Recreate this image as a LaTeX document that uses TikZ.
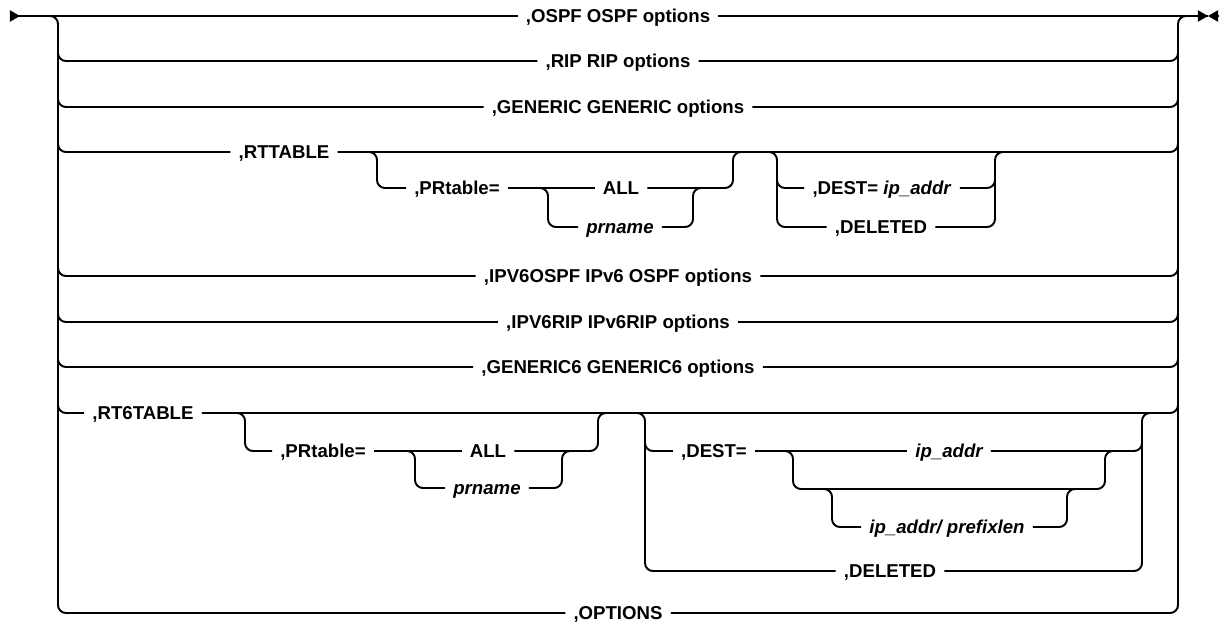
\documentclass[tikz,border=0pt]{standalone}
\usepackage{fontspec}
\setmainfont{Liberation Sans}
\usetikzlibrary{arrows.meta, calc}

\begin{document}
\begin{tikzpicture}[x=0.02cm, y=-0.02cm,
    rail/.style={line width=1.1pt, rounded corners=4.5pt},
    tip/.style={line width=0.6pt, -{Triangle[length=5.7pt, width=6.4pt]}},
    kw/.style={inner xsep=4.5pt, inner ysep=0pt, text height=7.6pt, text depth=0pt,
        font=\fontsize{10.6}{12}\selectfont\bfseries},
    var/.style={kw, font=\fontsize{10.6}{12}\selectfont\bfseries\itshape}]

    \useasboundingbox (0,0) rectangle (1225,626);

    % start and end marks, rails
    \coordinate (start) at (10,16);
    \coordinate (stop) at (1208,16);
    \coordinate (stopb) at (1218,16);
    \coordinate (lrail) at (58,16);
    \coordinate (rrail) at (1178,16);

    % the keywords, top to bottom
    \node[kw] (ospf) at (618,16) {,OSPF OSPF options};
    \node[kw] (rip) at (618,61) {,RIP RIP options};
    \node[kw] (gen) at (618,107) {,GENERIC GENERIC options};
    \node[kw] (rtt) at (284,152) {,RTTABLE};
    \node[kw] (prt) at (457,188) {,PRtable=};
    \node[kw] (all) at (621,188) {ALL};
    \node[var] (prn) at (620,227) {prname};
    \node[kw] (dest) at (882,188) {,DEST= \textit{ip\_addr}};
    \node[kw] (del) at (881,227) {,DELETED};
    \node[kw] (v6ospf) at (618,276) {,IPV6OSPF IPv6 OSPF options};
    \node[kw] (v6rip) at (618,322) {,IPV6RIP IPv6RIP options};
    \node[kw] (gen6) at (618,367) {,GENERIC6 GENERIC6 options};
    \node[kw] (rt6) at (143,413) {,RT6TABLE};
    \node[kw] (prt6) at (323,451) {,PRtable=};
    \node[kw] (all6) at (488,451) {ALL};
    \node[var] (prn6) at (487,488) {prname};
    \node[kw] (dest6) at (714,451) {,DEST=};
    \node[var] (ipa6) at (949,451) {ip\_addr};
    \node[var] (ipp6) at (947,527) {ip\_addr/ prefixlen};
    \node[kw] (del6) at (890,571) {,DELETED};
    \node[kw] (opts) at (618,613) {,OPTIONS};

    % main line with its marks:
    \draw[rail] (start) -- (ospf.west);
    \draw[rail] (ospf.east) -- (stop);
    \draw[tip] (start) -- ++(10,0);
    \draw[tip] ($(stop)+(-10,0)$) -- (stop);
    \draw[tip] (stopb) -- (stop);

    % left and right rails down to ,OPTIONS:
    \draw[rail] ($(lrail)+(-14,0)$) -- (lrail) |- (opts.west);
    \draw[rail] (opts.east) -| (rrail) -- ++(14,0);

    % plain rows:
    \draw[rail] ($(lrail |- rip)+(0,-22)$) |- (rip.west);
    \draw[rail] (rip.east) -| ($(rrail |- rip)+(0,-22)$);
    \draw[rail] ($(lrail |- gen)+(0,-22)$) |- (gen.west);
    \draw[rail] (gen.east) -| ($(rrail |- gen)+(0,-22)$);
    \draw[rail] ($(lrail |- v6ospf)+(0,-22)$) |- (v6ospf.west);
    \draw[rail] (v6ospf.east) -| ($(rrail |- v6ospf)+(0,-22)$);
    \draw[rail] ($(lrail |- v6rip)+(0,-22)$) |- (v6rip.west);
    \draw[rail] (v6rip.east) -| ($(rrail |- v6rip)+(0,-22)$);
    \draw[rail] ($(lrail |- gen6)+(0,-22)$) |- (gen6.west);
    \draw[rail] (gen6.east) -| ($(rrail |- gen6)+(0,-22)$);

    % ,RTTABLE row:
    \draw[rail] ($(lrail |- rtt)+(0,-22)$) |- (rtt.west);
    \draw[rail] (rtt.east) -| ($(rrail |- rtt)+(0,-22)$);
    \coordinate (b1) at (377,152);
    \coordinate (b2) at (548,188);
    \coordinate (m1) at (733,152);
    \coordinate (m2) at (693,188);
    \draw[rail] ($(b1)+(-14,0)$) -- (b1) |- (prt.west);
    \draw[rail] (prt.east) -- (all.west);
    \draw[rail] ($(b2)+(-14,0)$) -- (b2) |- (prn.west);
    \draw[rail] (prn.east) -| (m2) -- ++(14,0);
    \draw[rail] (all.east) -| (m1) -- ++(14,0);
    \coordinate (b3) at (777,152);
    \coordinate (m3) at (995,152);
    \draw[rail] ($(b3)+(-14,0)$) -- (b3) |- (del.west);
    \draw[rail] ($(b3 |- dest)+(0,-14)$) |- (dest.west);
    \draw[rail] (del.east) -| (m3) -- ++(14,0);
    \draw[rail] (dest.east) -| ($(m3 |- dest)+(0,-14)$);

    % ,RT6TABLE row:
    \draw[rail] ($(lrail |- rt6)+(0,-22)$) |- (rt6.west);
    \draw[rail] (rt6.east) -| ($(rrail |- rt6)+(0,-22)$);
    \coordinate (c1) at (245,413);
    \coordinate (c2) at (415,451);
    \coordinate (n1) at (598,413);
    \coordinate (n2) at (562,451);
    \draw[rail] ($(c1)+(-14,0)$) -- (c1) |- (prt6.west);
    \draw[rail] (prt6.east) -- (all6.west);
    \draw[rail] ($(c2)+(-14,0)$) -- (c2) |- (prn6.west);
    \draw[rail] (prn6.east) -| (n2) -- ++(14,0);
    \draw[rail] (all6.east) -| (n1) -- ++(14,0);
    \coordinate (c3) at (645,413);
    \coordinate (c4) at (793,451);
    \coordinate (c5) at (832,489);
    \coordinate (byp) at (1105,489);
    \coordinate (n3) at (1142,413);
    \coordinate (n4) at (1105,451);
    \coordinate (n5) at (1067,489);
    \draw[rail] ($(c3)+(-14,0)$) -- (c3) |- (del6.west);
    \draw[rail] ($(c3 |- dest6)+(0,-14)$) |- (dest6.west);
    \draw[rail] (dest6.east) -- (ipa6.west);
    \draw[rail] ($(c4)+(-14,0)$) -- (c4) |- (byp) -- (n4) -- ++(14,0);
    \draw[rail] ($(c5)+(-14,0)$) -- (c5) |- (ipp6.west);
    \draw[rail] (ipp6.east) -| (n5) -- ++(14,0);
    \draw[rail] (ipa6.east) -| (n3) -- ++(14,0);
    \draw[rail] (del6.east) -| ($(n3 |- ipa6)+(0,-14)$);

\end{tikzpicture}
\end{document}
